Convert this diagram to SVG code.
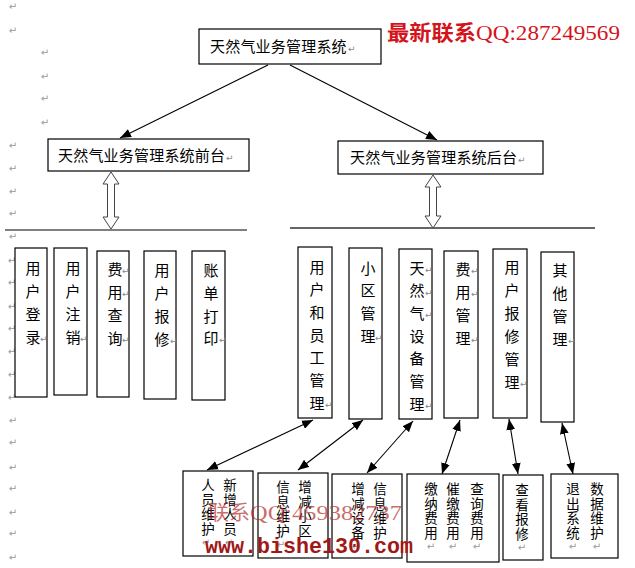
<svg xmlns="http://www.w3.org/2000/svg" width="635" height="568" viewBox="0 0 635 568">
<style>
.box{fill:#fff;stroke:#000;stroke-width:1.2}
.t{font-family:"Noto Sans CJK SC","Noto Sans",sans-serif;font-size:15px;fill:#000}
.tv{font-family:"Noto Sans CJK SC","Noto Sans",sans-serif;font-size:15px;fill:#000;text-anchor:middle}
.ts{font-family:"Noto Sans CJK SC","Noto Sans",sans-serif;font-size:13.5px;fill:#000;text-anchor:middle}
.r{font-family:"DejaVu Sans",sans-serif;font-size:9px;fill:#888}
.m{font-family:"DejaVu Sans",sans-serif;font-size:10px;fill:#999;text-anchor:middle}
.ln{stroke:#000;stroke-width:1.1;fill:none}
.hol{fill:#fff;stroke:#444;stroke-width:1}
</style>
<defs>
<marker id="ah" viewBox="0 0 10 8" refX="10" refY="4" markerWidth="11" markerHeight="9" markerUnits="userSpaceOnUse" orient="auto-start-reverse">
<path d="M0,0 L10,4 L0,8 z" fill="#000"/>
</marker>
</defs>
<rect width="635" height="568" fill="#fff"/>

<g id="margin-marks">
<text class="m" x="13" y="10">↵</text>
<text class="m" x="13" y="34">↵</text>
<text class="m" x="45" y="56">↵</text>
<text class="m" x="45" y="80">↵</text>
<text class="m" x="45" y="102">↵</text>
<text class="m" x="45" y="126">↵</text>
<text class="m" x="13" y="149">↵</text>
<text class="m" x="13" y="172">↵</text>
<text class="m" x="13" y="195">↵</text>
<text class="m" x="13" y="217">↵</text>
<text class="m" x="13" y="240">↵</text>
<text class="m" x="12" y="264">↵</text>
<text class="m" x="12" y="286">↵</text>
<text class="m" x="12" y="310">↵</text>
<text class="m" x="12" y="332">↵</text>
<text class="m" x="12" y="355">↵</text>
<text class="m" x="12" y="378">↵</text>
<text class="m" x="12" y="401">↵</text>
<text class="m" x="13" y="424">↵</text>
<text class="m" x="13" y="446">↵</text>
<text class="m" x="13" y="471">↵</text>
<text class="m" x="13" y="492">↵</text>
<text class="m" x="13" y="516">↵</text>
<text class="m" x="13" y="537">↵</text>
<text class="m" x="13" y="561">↵</text>
</g>

<g id="dividers">
<line x1="5" y1="230" x2="247" y2="230" stroke="#555" stroke-width="1.5"/>
<line x1="290" y1="228" x2="595" y2="228" stroke="#333" stroke-width="1.5"/>
</g>

<g id="connectors">
<line class="ln" x1="268" y1="65" x2="120" y2="138" marker-end="url(#ah)"/>
<line class="ln" x1="290" y1="65" x2="437" y2="140" marker-end="url(#ah)"/>
<path class="hol" d="M111,172 L119,184 L114.5,184 L114.5,217 L119,217 L111,229 L103,217 L107.5,217 L107.5,184 L103,184 Z"/>
<path class="hol" d="M433,175 L441,187 L436.5,187 L436.5,216 L441,216 L433,228 L425,216 L429.5,216 L429.5,187 L425,187 Z"/>
<line class="ln" x1="313" y1="420" x2="207" y2="470" marker-start="url(#ah)" marker-end="url(#ah)"/>
<line class="ln" x1="363" y1="420" x2="298" y2="470" marker-start="url(#ah)" marker-end="url(#ah)"/>
<line class="ln" x1="413" y1="421" x2="367" y2="473" marker-start="url(#ah)" marker-end="url(#ah)"/>
<line class="ln" x1="460" y1="420" x2="442" y2="474" marker-start="url(#ah)" marker-end="url(#ah)"/>
<line class="ln" x1="509" y1="419" x2="518" y2="474" marker-start="url(#ah)" marker-end="url(#ah)"/>
<line class="ln" x1="562" y1="423" x2="573" y2="474" marker-start="url(#ah)" marker-end="url(#ah)"/>
</g>

<g id="root">
<rect class="box" x="199" y="29" width="182" height="35"/>
<text class="t" x="210" y="52" letter-spacing="0.2">天然气业务管理系统</text>
<text class="r" x="348" y="52">↵</text>
</g>

<g id="front">
<rect class="box" x="48" y="139" width="201" height="32"/>
<text class="t" x="58" y="160.5" letter-spacing="0.2">天然气业务管理系统前台</text>
<text class="r" x="226" y="160.5">↵</text>
</g>

<g id="back">
<rect class="box" x="338" y="141" width="205" height="33"/>
<text class="t" x="350" y="163" letter-spacing="0.2">天然气业务管理系统后台</text>
<text class="r" x="518" y="163">↵</text>
</g>

<g id="f-login">
<rect class="box" x="15" y="248" width="32" height="149"/>
<text class="tv"><tspan x="33" y="273.5">用</tspan><tspan x="33" y="296.5">户</tspan><tspan x="33" y="319.5">登</tspan><tspan x="33" y="342.5">录</tspan></text>
<text class="r" x="40" y="342">↵</text>
</g>
<g id="f-logout">
<rect class="box" x="54" y="248" width="33" height="147"/>
<text class="tv"><tspan x="73" y="273.5">用</tspan><tspan x="73" y="296.5">户</tspan><tspan x="73" y="319.5">注</tspan><tspan x="73" y="342.5">销</tspan></text>
<text class="r" x="80" y="342">↵</text>
</g>
<g id="f-query">
<rect class="box" x="97" y="251" width="32" height="146"/>
<text class="tv"><tspan x="115" y="274.5">费</tspan><tspan x="115" y="297.5">用</tspan><tspan x="115" y="320.5">查</tspan><tspan x="115" y="343.5">询</tspan></text>
<text class="r" x="122" y="274">↵</text><text class="r" x="122" y="297">↵</text><text class="r" x="122" y="343">↵</text>
</g>
<g id="f-repair">
<rect class="box" x="144" y="251" width="32" height="148"/>
<text class="tv"><tspan x="162" y="275.5">用</tspan><tspan x="162" y="298.5">户</tspan><tspan x="162" y="321.5">报</tspan><tspan x="162" y="344.5">修</tspan></text>
<text class="r" x="170" y="344">↵</text>
</g>
<g id="f-print">
<rect class="box" x="192" y="251" width="33" height="149"/>
<text class="tv"><tspan x="211" y="275.5">账</tspan><tspan x="211" y="298.5">单</tspan><tspan x="211" y="321.5">打</tspan><tspan x="211" y="343.5">印</tspan></text>
<text class="r" x="219" y="343">↵</text>
</g>

<g id="b-user">
<rect class="box" x="298" y="247" width="34" height="171"/>
<text class="tv"><tspan x="317" y="272.5">用</tspan><tspan x="317" y="295.2">户</tspan><tspan x="317" y="317.9">和</tspan><tspan x="317" y="340.6">员</tspan><tspan x="317" y="363.3">工</tspan><tspan x="317" y="386">管</tspan><tspan x="317" y="408.7">理</tspan></text>
<text class="r" x="325" y="408">↵</text>
</g>
<g id="b-area">
<rect class="box" x="349" y="248" width="33" height="171"/>
<text class="tv"><tspan x="368" y="273.5">小</tspan><tspan x="368" y="296.2">区</tspan><tspan x="368" y="318.9">管</tspan><tspan x="368" y="341.6">理</tspan></text>
<text class="r" x="375" y="341">↵</text>
</g>
<g id="b-device">
<rect class="box" x="399" y="249" width="33" height="170"/>
<text class="tv"><tspan x="417" y="273.5">天</tspan><tspan x="417" y="296.2">然</tspan><tspan x="417" y="318.9">气</tspan><tspan x="417" y="341.6">设</tspan><tspan x="417" y="364.3">备</tspan><tspan x="417" y="387">管</tspan><tspan x="417" y="409.7">理</tspan></text>
<text class="r" x="425" y="273">↵</text><text class="r" x="425" y="296">↵</text><text class="r" x="425" y="318">↵</text><text class="r" x="425" y="409">↵</text>
</g>
<g id="b-fee">
<rect class="box" x="444" y="251" width="34" height="167"/>
<text class="tv"><tspan x="463" y="274.5">费</tspan><tspan x="463" y="297.5">用</tspan><tspan x="463" y="320.5">管</tspan><tspan x="463" y="343.5">理</tspan></text>
<text class="r" x="471" y="274">↵</text><text class="r" x="471" y="297">↵</text><text class="r" x="471" y="343">↵</text>
</g>
<g id="b-repair">
<rect class="box" x="493" y="249" width="34" height="169"/>
<text class="tv"><tspan x="512" y="272.5">用</tspan><tspan x="512" y="295.5">户</tspan><tspan x="512" y="318.5">报</tspan><tspan x="512" y="341.5">修</tspan><tspan x="512" y="364.5">管</tspan><tspan x="512" y="387.5">理</tspan></text>
<text class="r" x="520" y="387">↵</text>
</g>
<g id="b-other">
<rect class="box" x="541" y="252" width="33" height="170"/>
<text class="tv"><tspan x="560" y="275.5">其</tspan><tspan x="560" y="298.5">他</tspan><tspan x="560" y="321.5">管</tspan><tspan x="560" y="344.5">理</tspan></text>
<text class="r" x="568" y="344">↵</text>
</g>

<g id="s-staff">
<rect class="box" x="183" y="471" width="70" height="85"/>
<text class="ts"><tspan x="208" y="490">人</tspan><tspan x="208" y="504.7">员</tspan><tspan x="208" y="519.4">维</tspan><tspan x="208" y="534.1">护</tspan></text>
<text class="ts"><tspan x="230" y="490">新</tspan><tspan x="230" y="504.7">增</tspan><tspan x="230" y="519.4">人</tspan><tspan x="230" y="534.1">员</tspan></text>
<text class="m" x="206" y="546" font-size="7">↵</text><text class="m" x="229" y="546" font-size="7">↵</text>
</g>
<g id="s-area">
<rect class="box" x="258" y="473" width="70" height="85"/>
<text class="ts"><tspan x="283" y="492">信</tspan><tspan x="283" y="506.7">息</tspan><tspan x="283" y="521.4">维</tspan><tspan x="283" y="536.1">护</tspan></text>
<text class="ts"><tspan x="305" y="492">增</tspan><tspan x="305" y="506.7">减</tspan><tspan x="305" y="521.4">小</tspan><tspan x="305" y="536.1">区</tspan></text>
<text class="m" x="281" y="548" font-size="7">↵</text>
</g>
<g id="s-device">
<rect class="box" x="332" y="474" width="70" height="84"/>
<text class="ts"><tspan x="358" y="494">增</tspan><tspan x="358" y="508.7">减</tspan><tspan x="358" y="523.4">设</tspan><tspan x="358" y="538.1">备</tspan></text>
<text class="ts"><tspan x="380" y="494">信</tspan><tspan x="380" y="508.7">息</tspan><tspan x="380" y="523.4">维</tspan><tspan x="380" y="538.1">护</tspan></text>
<text class="m" x="356" y="550" font-size="7">↵</text>
</g>
<g id="s-fee">
<rect class="box" x="407" y="474" width="92" height="88"/>
<text class="ts"><tspan x="431" y="494">缴</tspan><tspan x="431" y="508.7">纳</tspan><tspan x="431" y="523.4">费</tspan><tspan x="431" y="538.1">用</tspan></text>
<text class="ts"><tspan x="453" y="494">催</tspan><tspan x="453" y="508.7">缴</tspan><tspan x="453" y="523.4">费</tspan><tspan x="453" y="538.1">用</tspan></text>
<text class="ts"><tspan x="477" y="494">查</tspan><tspan x="477" y="508.7">询</tspan><tspan x="477" y="523.4">费</tspan><tspan x="477" y="538.1">用</tspan></text>
<text class="m" x="431" y="550" font-size="7">↵</text><text class="m" x="453" y="550" font-size="7">↵</text><text class="m" x="477" y="550" font-size="7">↵</text>
</g>
<g id="s-repair">
<rect class="box" x="503" y="475" width="40" height="85"/>
<text class="ts"><tspan x="522" y="495">查</tspan><tspan x="522" y="509.7">看</tspan><tspan x="522" y="524.4">报</tspan><tspan x="522" y="539.1">修</tspan></text>
<text class="m" x="522" y="551" font-size="7">↵</text>
</g>
<g id="s-other">
<rect class="box" x="551" y="474" width="67" height="84"/>
<text class="ts"><tspan x="573" y="494">退</tspan><tspan x="573" y="508.7">出</tspan><tspan x="573" y="523.4">系</tspan><tspan x="573" y="538.1">统</tspan></text>
<text class="ts"><tspan x="597" y="494">数</tspan><tspan x="597" y="508.7">据</tspan><tspan x="597" y="523.4">维</tspan><tspan x="597" y="538.1">护</tspan></text>
<text class="m" x="573" y="550" font-size="7">↵</text><text class="m" x="597" y="550" font-size="7">↵</text>
</g>

<g id="watermarks">
<text x="387" y="40" font-family="'Noto Sans CJK SC',sans-serif" font-weight="bold" font-size="21" fill="#d4141c" textLength="89" lengthAdjust="spacingAndGlyphs">最新联系</text>
<text x="476" y="40" font-family="'Liberation Serif',serif" font-size="22" fill="#d4141c" textLength="144" lengthAdjust="spacingAndGlyphs">QQ:287249569</text>
<text x="208" y="520" font-family="'Noto Sans CJK SC',sans-serif" font-size="20" fill="#b02a2a" fill-opacity="0.7" textLength="42" lengthAdjust="spacingAndGlyphs">联系</text>
<text x="250" y="520" font-family="'Liberation Serif',serif" font-size="22" fill="#b02a2a" fill-opacity="0.7" textLength="152" lengthAdjust="spacingAndGlyphs">QQ:459382737</text>
<text x="205" y="553" font-family="'Liberation Mono',monospace" font-weight="bold" font-size="22" fill="#a01818" textLength="208" lengthAdjust="spacingAndGlyphs">www.bishe130.com</text>
</g>
</svg>
